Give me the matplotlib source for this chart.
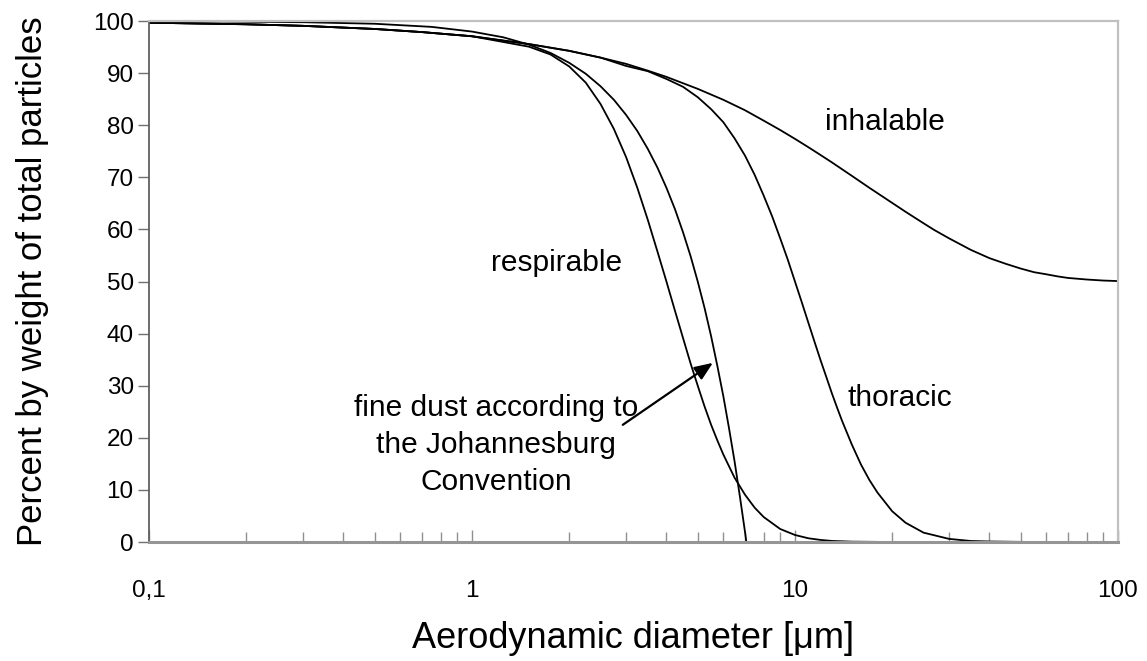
import matplotlib
matplotlib.use("Agg")
import matplotlib.pyplot as plt

plt.rcParams['font.family'] = ['Liberation Sans', 'DejaVu Sans']

# Aerodynamic diameter [µm] and percent values
inh_d = [0.1, 0.2, 0.3, 0.5, 0.7, 1, 1.5, 2, 2.5, 3, 3.5, 4, 5, 6, 7, 8, 9, 10, 11, 12, 13, 15,
         17, 20, 22, 25, 27, 30, 35, 40, 45, 50, 55, 60, 65, 70, 80, 90, 100]
inh_v = [99.7, 99.4, 99.1, 98.5, 97.9, 97.1, 95.6, 94.3, 93.0, 91.8, 90.5, 89.3, 87.0, 84.9,
         82.9, 80.9, 79.1, 77.4, 75.8, 74.3, 72.9, 70.3, 68.0, 65.1, 63.4, 61.2, 59.9, 58.3,
         56.1, 54.5, 53.4, 52.5, 51.8, 51.4, 51.0, 50.7, 50.4, 50.2, 50.1]

tho_d = [0.1, 0.2, 0.3, 0.5, 0.7, 1, 1.5, 2, 2.5, 3, 3.5, 4, 4.5, 5, 5.5, 6, 6.5, 7, 7.5, 8,
         8.5, 9, 9.5, 10, 10.5, 11, 11.5, 12, 12.5, 13, 13.5, 14, 15, 16, 17, 18, 20, 22, 25,
         30, 35, 40, 55]
tho_v = [99.7, 99.4, 99.1, 98.5, 97.9, 97.1, 95.6, 94.3, 93.0, 91.4, 90.4, 88.9, 87.4, 85.4,
         83.1, 80.6, 77.5, 74.2, 70.5, 66.5, 62.5, 58.3, 54.2, 50.0, 46.0, 42.1, 38.4, 34.9,
         31.7, 28.6, 25.8, 23.2, 18.7, 14.9, 11.9, 9.5, 5.9, 3.7, 1.8, 0.6, 0.2, 0.1, 0.0]

res_d = [0.1, 0.2, 0.3, 0.5, 0.7, 1, 1.5, 1.75, 2, 2.25, 2.5, 2.75, 3, 3.25, 3.5, 3.75, 4,
         4.25, 4.5, 4.75, 5, 5.25, 5.5, 5.75, 6, 6.5, 7, 7.5, 8, 9, 10, 11, 12, 13, 15, 20]
res_v = [99.7, 99.4, 99.1, 98.5, 97.9, 97.1, 95.1, 93.6, 91.3, 88.2, 84.1, 79.3, 73.9, 68.0,
         61.9, 55.8, 50.0, 44.4, 39.2, 34.3, 30.0, 26.0, 22.5, 19.5, 16.8, 12.35, 9.1, 6.6,
         4.8, 2.5, 1.35, 0.72, 0.4, 0.21, 0.07, 0.0]

jhb_d = [0.1, 0.2, 0.3, 0.5, 0.75, 1, 1.25, 1.5, 1.75, 2, 2.25, 2.5, 2.75, 3, 3.25, 3.5, 3.75,
         4, 4.25, 4.5, 4.75, 5, 5.25, 5.5, 5.75, 6, 6.25, 6.5, 6.75, 7, 7.07]
jhb_v = [100.0, 99.9, 99.8, 99.5, 98.9, 98.0, 96.9, 95.5, 93.9, 92.0, 89.9, 87.5, 84.9, 82.0,
         78.9, 75.5, 71.9, 68.0, 63.9, 59.5, 54.9, 50.0, 44.9, 39.5, 33.8, 28.0, 21.8, 15.5,
         8.8, 2.0, 0.0]

y_ticks = [0, 10, 20, 30, 40, 50, 60, 70, 80, 90, 100]
x_ticks = [0.1, 1, 10, 100]
x_tick_labels = ["0,1", "1", "10", "100"]

fig = plt.figure(figsize=(11.47, 6.61), dpi=100)
ax = fig.add_axes([0.1299, 0.180, 0.8448, 0.788])

lw = 1.3
for d, v in [(inh_d, inh_v), (tho_d, tho_v), (res_d, res_v), (jhb_d, jhb_v)]:
    ax.plot(d, v, color='black', lw=lw, solid_capstyle='butt', solid_joinstyle='round')

ax.set_xscale('log')
ax.set_xlim(0.1, 100)
ax.set_ylim(0, 100)
ax.set_yticks(y_ticks)
ax.set_xticks(x_ticks)
ax.set_xticklabels(x_tick_labels)

ax.tick_params(axis='y', direction='out', length=8, width=1, color='#707070',
               labelsize=17.5, pad=3)
ax.tick_params(axis='x', which='major', direction='in', length=9, width=1, color='#909090',
               labelsize=17.5, pad=27)
ax.tick_params(axis='x', which='minor', direction='in', length=7, width=1, color='#909090')

ax.spines['left'].set_color('#606060')
ax.spines['left'].set_linewidth(1.3)
ax.spines['bottom'].set_color('#959595')
ax.spines['bottom'].set_linewidth(2.2)
ax.spines['top'].set_color('#c0c0c0')
ax.spines['top'].set_linewidth(1.6)
ax.spines['right'].set_color('#c0c0c0')
ax.spines['right'].set_linewidth(1.6)

ax.set_xlabel("Aerodynamic diameter [μm]", fontsize=26, labelpad=14)
ax.set_ylabel("Percent by weight of total particles", fontsize=25, labelpad=32)

fs = 21.5
ax.text(19.0, 80.6, "inhalable", fontsize=fs, ha='center', va='center')
ax.text(21.1, 27.6, "thoracic", fontsize=fs, ha='center', va='center')
ax.text(1.83, 53.6, "respirable", fontsize=fs, ha='center', va='center')
ax.text(1.187, 18.6, "fine dust according to\nthe Johannesburg\nConvention", fontsize=fs,
        ha='center', va='center', linespacing=1.4)
ax.annotate("", xy=(5.57, 34.4), xytext=(2.93, 22.5),
            arrowprops=dict(arrowstyle='-|>,head_length=1.1,head_width=0.45', color='black',
                            lw=1.6, shrinkA=0, shrinkB=0))

fig.savefig("out.png", dpi=100, facecolor='white')
